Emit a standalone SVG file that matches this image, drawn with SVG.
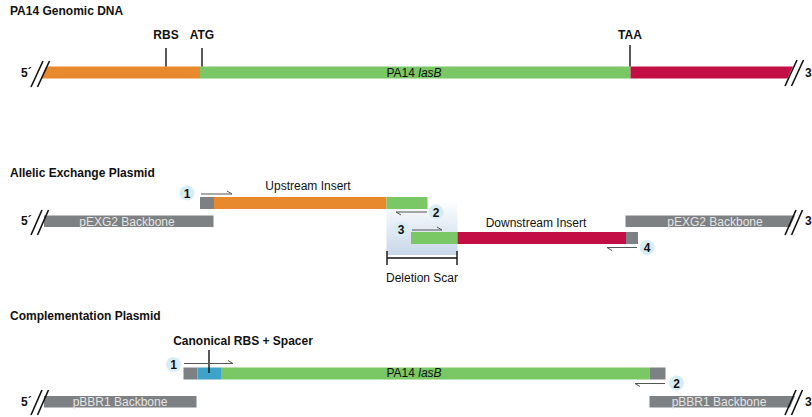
<svg xmlns="http://www.w3.org/2000/svg" width="812" height="417" viewBox="0 0 812 417">
<defs>
<linearGradient id="scarGrad" x1="0" y1="0" x2="0" y2="1">
<stop offset="0" stop-color="#ffffff"/>
<stop offset="1" stop-color="#c8d7ea"/>
</linearGradient>
<style>
text{font-family:"Liberation Sans",Arial,Helvetica,sans-serif;}
.title{font-size:12px;font-weight:bold;fill:#111;}
.lbl{font-size:12px;fill:#111;}
.blbl{font-size:12px;font-weight:bold;fill:#111;}
.bb{font-size:12px;fill:#e4e4e4;}
.end{font-size:12px;font-weight:bold;fill:#111;}
.num{font-size:12px;font-weight:bold;fill:#111;text-anchor:middle;}
.orange{fill:#e8892e;}
.green{fill:#7ac865;}
.red{fill:#c30e45;}
.grey{fill:#7e8183;}
.blue{fill:#3ea2c9;}
.slash{stroke:#111;stroke-width:1.6;fill:none;}
.tick{stroke:#111;stroke-width:1.4;}
.primer{stroke:#555;stroke-width:1;fill:none;}
.circ{fill:#d6edf5;}
</style>
</defs>

<!-- Section 1 -->
<text class="title" x="10" y="15">PA14 Genomic DNA</text>
<g id="genomic">
<polygon class="orange" points="46,66.5 200,66.5 200,78.5 41,78.5"/>
<rect class="green" x="200" y="66.5" width="430.5" height="12"/>
<polygon class="red" points="630.5,66.5 793,66.5 787.5,78.5 630.5,78.5"/>
<line class="slash" x1="31" y1="87" x2="43" y2="61"/>
<line class="slash" x1="37.5" y1="87" x2="49.5" y2="61"/>
<line class="slash" x1="785" y1="86" x2="797" y2="60"/>
<line class="slash" x1="791.5" y1="86" x2="803.5" y2="60"/>
<text class="end" x="21" y="77">5´</text>
<text class="end" x="805" y="77">3</text>
<text class="lbl" x="414" y="76.5" text-anchor="middle">PA14 <tspan font-style="italic">lasB</tspan></text>
</g>
<g id="markers1">
<line class="tick" x1="166" y1="48" x2="166" y2="66.5"/>
<line class="tick" x1="202" y1="48" x2="202" y2="66.5"/>
<line class="tick" x1="630" y1="45" x2="630" y2="66.5"/>
<text class="blbl" x="166" y="39" text-anchor="middle">RBS</text>
<text class="blbl" x="202" y="39" text-anchor="middle">ATG</text>
<text class="blbl" x="630" y="39" text-anchor="middle">TAA</text>
</g>

<!-- Section 2 -->
<text class="title" x="10" y="177">Allelic Exchange Plasmid</text>
<g id="scar">
<rect x="386.5" y="200" width="71" height="55" fill="url(#scarGrad)"/>
<line class="tick" x1="387" y1="258" x2="457" y2="258"/>
<line class="tick" x1="387" y1="251" x2="387" y2="265"/>
<line class="tick" x1="457" y1="251" x2="457" y2="265"/>
<text class="lbl" x="422" y="281.5" text-anchor="middle">Deletion Scar</text>
</g>
<g id="pexg2-left">
<rect class="grey" x="44" y="215.5" width="169.5" height="11.5"/>
<line class="slash" x1="31" y1="235" x2="42" y2="210"/>
<line class="slash" x1="37.5" y1="235" x2="48.5" y2="210"/>
<text class="end" x="21" y="225">5´</text>
<text class="bb" x="127" y="225.5" text-anchor="middle">pEXG2 Backbone</text>
</g>
<g id="upstream">
<rect class="grey" x="200" y="197" width="14" height="12"/>
<rect class="orange" x="214" y="197" width="172.5" height="12"/>
<rect class="green" x="386.5" y="197" width="41" height="12"/>
<text class="lbl" x="308" y="190" text-anchor="middle">Upstream Insert</text>
</g>
<g id="downstream">
<rect class="green" x="411" y="232" width="46.5" height="12"/>
<rect class="red" x="457.5" y="232" width="168.5" height="12"/>
<rect class="grey" x="626" y="232" width="12" height="12"/>
<text class="lbl" x="536" y="226.5" text-anchor="middle">Downstream Insert</text>
</g>
<g id="pexg2-right">
<polygon class="grey" points="625.5,215.5 795,215.5 790,227 625.5,227"/>
<line class="slash" x1="785" y1="235" x2="796" y2="210"/>
<line class="slash" x1="791.5" y1="235" x2="802.5" y2="210"/>
<text class="end" x="805" y="225">3</text>
<text class="bb" x="715" y="225.5" text-anchor="middle">pEXG2 Backbone</text>
</g>
<g id="primers2">
<path class="primer" d="M201,194 H232 L227,191"/>
<circle class="circ" cx="187" cy="193" r="7.5"/>
<text class="num" x="187" y="197.5">1</text>
<path class="primer" d="M427,212 H396 L401,215"/>
<circle class="circ" cx="436" cy="212" r="7.5"/>
<text class="num" x="436" y="216.5">2</text>
<path class="primer" d="M412,230 H442 L437,227"/>
<circle class="circ" cx="401" cy="229.5" r="7.5"/>
<text class="num" x="401" y="234">3</text>
<path class="primer" d="M637,247.5 H607 L612,250.5"/>
<circle class="circ" cx="647" cy="247.5" r="7.5"/>
<text class="num" x="647" y="252">4</text>
</g>

<!-- Section 3 -->
<text class="title" x="10" y="320">Complementation Plasmid</text>
<g id="pbbr1-left">
<rect class="grey" x="44" y="396" width="152.5" height="11.5"/>
<line class="slash" x1="31" y1="415" x2="42" y2="390"/>
<line class="slash" x1="37.5" y1="415" x2="48.5" y2="390"/>
<text class="end" x="21" y="406">5´</text>
<text class="bb" x="120" y="406" text-anchor="middle">pBBR1 Backbone</text>
</g>
<g id="complement">
<rect class="grey" x="183.5" y="367.5" width="14" height="12"/>
<rect class="blue" x="197.5" y="367.5" width="23.5" height="12"/>
<rect class="green" x="221" y="367.5" width="428.5" height="12"/>
<rect class="grey" x="649.5" y="367.5" width="16" height="12"/>
<text class="lbl" x="414" y="377" text-anchor="middle">PA14 <tspan font-style="italic">lasB</tspan></text>
</g>
<g id="rbs-spacer">
<line class="tick" x1="209" y1="350" x2="209" y2="373"/>
<text class="blbl" x="243" y="345" text-anchor="middle">Canonical RBS + Spacer</text>
</g>
<g id="pbbr1-right">
<polygon class="grey" points="649.5,396 795,396 790,407.5 649.5,407.5"/>
<line class="slash" x1="785" y1="415" x2="796" y2="390"/>
<line class="slash" x1="791.5" y1="415" x2="802.5" y2="390"/>
<text class="end" x="805" y="406">3</text>
<text class="bb" x="719" y="406" text-anchor="middle">pBBR1 Backbone</text>
</g>
<g id="primers3">
<path class="primer" d="M184,363.5 H233 L228,360.5"/>
<circle class="circ" cx="173.5" cy="364.5" r="7.5"/>
<text class="num" x="173.5" y="369">1</text>
<path class="primer" d="M665,383.5 H635 L640,386.5"/>
<circle class="circ" cx="676.5" cy="383" r="7.5"/>
<text class="num" x="676.5" y="387.5">2</text>
</g>
</svg>
